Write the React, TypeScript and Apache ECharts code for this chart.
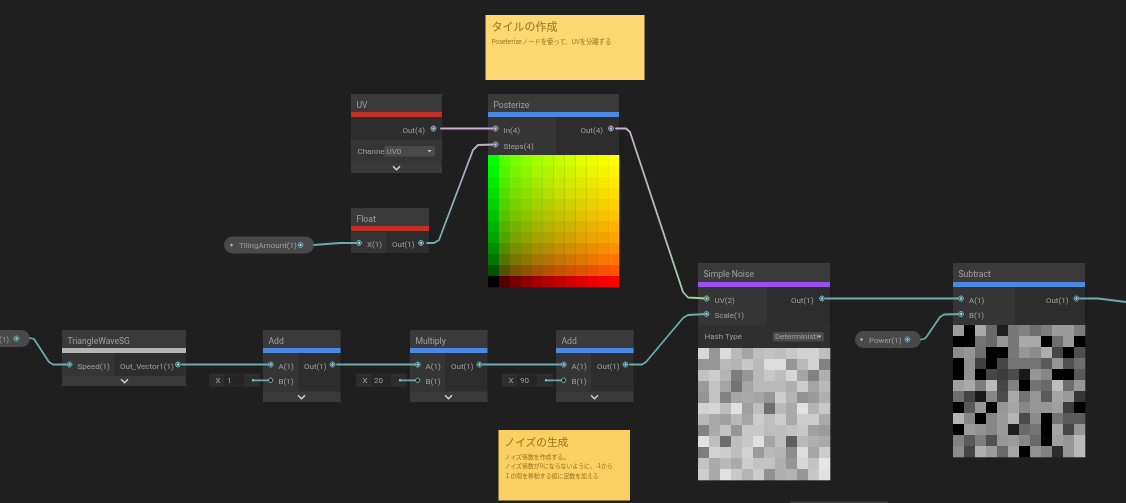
import React, { useEffect, useRef } from "react";
import * as echarts from "echarts";

// Colour levels of the posterized UV preview (bottom-left = black, right = red, top = green)
const redLevels = [0, 84, 118, 142, 163, 179, 195, 208, 222, 234, 245, 255];
const greenLevels = [255, 245, 234, 222, 208, 195, 179, 163, 142, 118, 84, 0];

const noiseValues = [
  [215, 150, 220, 185, 165, 190, 195, 190, 200, 210, 210, 190],
  [150, 150, 185, 180, 200, 185, 220, 220, 150, 185, 210, 130],
  [195, 205, 180, 125, 150, 185, 200, 190, 215, 165, 130, 175],
  [155, 195, 165, 115, 165, 185, 185, 185, 175, 205, 165, 185],
  [150, 195, 130, 165, 170, 165, 150, 205, 180, 145, 155, 175],
  [210, 215, 190, 225, 160, 190, 110, 185, 170, 225, 180, 200],
  [185, 170, 160, 185, 165, 205, 190, 205, 170, 205, 205, 170],
  [130, 170, 195, 150, 200, 200, 190, 190, 195, 200, 160, 155],
  [225, 190, 110, 190, 200, 225, 165, 190, 95, 185, 175, 170],
  [125, 210, 205, 190, 210, 155, 185, 180, 140, 220, 165, 205],
  [195, 170, 185, 170, 205, 195, 195, 175, 150, 215, 195, 230],
  [205, 170, 225, 200, 180, 205, 145, 175, 180, 150, 200, 225],
];

const subtractValues = [
  [155, 0, 170, 105, 30, 120, 130, 110, 125, 155, 155, 125],
  [0, 0, 115, 105, 150, 120, 170, 170, 0, 110, 155, 0],
  [140, 150, 110, 0, 0, 120, 150, 140, 175, 70, 0, 80],
  [0, 145, 65, 0, 70, 115, 115, 115, 90, 150, 80, 110],
  [0, 145, 0, 70, 60, 75, 25, 150, 135, 0, 0, 90],
  [160, 170, 125, 185, 70, 130, 0, 115, 105, 190, 110, 150],
  [110, 70, 25, 135, 75, 170, 115, 150, 90, 165, 155, 55],
  [0, 90, 150, 0, 150, 165, 135, 150, 150, 160, 60, 0],
  [180, 135, 0, 135, 155, 180, 75, 140, 0, 115, 90, 90],
  [0, 155, 145, 135, 155, 30, 105, 115, 0, 165, 70, 150],
  [130, 90, 125, 80, 150, 155, 135, 105, 5, 160, 150, 185],
  [140, 70, 175, 155, 105, 165, 0, 145, 130, 45, 150, 185],
];

const noteOneTitle = "タイルの作成";
const noteOneLines = ["Poseterizeノードを使って、UVを分離する"];
const noteTwoTitle = "ノイズの生成";
const noteTwoLines = [
  "ノイズ係数を作成する。",
  "ノイズ係数が0にならないように、-1から",
  "１の間を移動する値に定数を加える",
];

const BG = "#1f1f1f";
const HEAD = "#3a3a3a";
const BODY = "#2d2d2d";
const SECTION = "#353535";
const ROW = "#3a3a3a";
const TXT = "#a0a0a0";
const TEAL = "#68acae";
const PINK = "#ccaccd";
const GREEN = "#a0d09c";
const BLUE = "#4a8ae3";
const RED = "#c22f24";
const PURPLE = "#9a50ea";
const NOTE_TEXT = "#96721f";
const UI_FONT = 'Roboto, sans-serif';
const CJK_FONT = '"Noto Sans CJK JP", sans-serif';
const LABEL = 8;

const g: any[] = [];
const rect = (x: number, y: number, w: number, h: number, fill: string, z = 0, r = 0) =>
  g.push({ type: "rect", z, silent: true, shape: { x, y, width: w, height: h, r }, style: { fill } });
const text = (t: string, x: number, y: number, size = LABEL, fill = TXT, font = UI_FONT, align = "left") =>
  g.push({
    type: "text", z: 20, silent: true, x, y,
    style: { text: t, fill, font: `${size}px ${font}`, textAlign: align, textVerticalAlign: "middle" },
  });
const port = (x: number, y: number, color = "#78bcc4") => {
  g.push({ type: "circle", z: 20, silent: true, shape: { cx: x, cy: y, r: 2.5 }, style: { fill: "#33636a", stroke: color, lineWidth: 0.9 } });
  g.push({ type: "circle", z: 21, silent: true, shape: { cx: x, cy: y, r: 1 }, style: { fill: "#c8e8ea" } });
};
const hollowPort = (x: number, y: number) =>
  g.push({ type: "circle", z: 21, silent: true, shape: { cx: x, cy: y, r: 2.2 }, style: { fill: "#222", stroke: "#8fc6c6", lineWidth: 0.9 } });
const dot = (x: number, y: number, fill = "#7fc4cc", r = 1.2) =>
  g.push({ type: "circle", z: 21, silent: true, shape: { cx: x, cy: y, r }, style: { fill } });
const chevron = (cx: number, cy: number) =>
  g.push({
    type: "polyline", z: 20, silent: true,
    shape: { points: [[cx - 3.5, cy - 1.8], [cx, cy + 1.8], [cx + 3.5, cy - 1.8]] },
    style: { stroke: "#d8d8d8", lineWidth: 1.3, fill: "none" },
  });
const caret = (cx: number, cy: number) =>
  g.push({
    type: "polygon", z: 20, silent: true,
    shape: { points: [[cx - 2, cy - 1], [cx + 2, cy - 1], [cx, cy + 1.5]] },
    style: { fill: "#c0c0c0" },
  });
const frame = (x: number, y: number, w: number, h: number, bar: string, title: string, top = 18) => {
  rect(x, y, w, h, BODY);
  rect(x, y, w, top, HEAD);
  rect(x, y + top, w, 5, bar);
  text(title, x + 5.5, y + 11, 8.6);
};
const inputBox = (x: number, value: string, cy: number) => {
  rect(x, cy - 6.5, 51, 13, "#2d2d2d");
  rect(x + 15, cy - 6, 20, 12, "#262626", 1, 3);
  text("X", x + 6.5, cy);
  text(value, x + 18, cy);
  dot(x + 44, cy);
};
const pill = (x: number, y: number, w: number, label: string, dotX: number, labelX: number, portX: number) => {
  rect(x, y, w, 17, "#494949", 0, 8.5);
  if (dotX > 0) dot(dotX, y + 8.5, "#a8e07a", 1.2);
  text(label, labelX, y + 9);
  port(portX, y + 8.5);
};
const note = (
  x: number, y: number, w: number, h: number, fill: string,
  title: string, titleSize: number, titleY: number,
  lines: string[], lineSize: number, lineY: number
) => {
  rect(x, y, w, h, fill);
  text(title, x + 6, titleY, titleSize, NOTE_TEXT, CJK_FONT);
  lines.forEach((l, i) => text(l, x + 6, lineY + i * 9.5, lineSize, NOTE_TEXT, CJK_FONT));
};

// UV
frame(351, 94, 91, 79, RED, "UV");
rect(351, 140, 91, 23, SECTION);
rect(351, 163, 91, 10, ROW);
text("Out(4)", 425, 130, LABEL, TXT, UI_FONT, "right");
port(433.5, 128.5, "#d0b0d0");
text("Channe", 357.5, 151);
rect(384, 146, 51, 10.5, "#4a4a4a", 1, 1.5);
text("UV0", 386.5, 151);
caret(429.5, 151);
chevron(396.5, 168);

// Posterize
frame(488, 94, 131, 193, BLUE, "Posterize");
rect(488, 117, 68, 38, SECTION);
port(495.5, 128.5, "#d0b0d0");
port(495.5, 144.5, "#d0b0d0");
text("In(4)", 503.5, 130);
text("Steps(4)", 503.5, 146);
text("Out(4)", 603, 130, LABEL, TXT, UI_FONT, "right");
port(611, 128.5, "#d0b0d0");

// Float
frame(351, 208, 78, 45, RED, "Float");
rect(351, 232, 35, 21, SECTION);
port(359, 243);
text("X(1)", 367, 244.5);
text("Out(1)", 392, 244.5);
port(421, 243);

pill(224, 236.5, 90, "TilingAmount(1)", 231.5, 239, 300.5);
pill(-40, 330, 70, "(1)", 0, -1, 16.5);
pill(855, 331, 66, "Power(1)", 861.5, 869, 907.5);

// TriangleWaveSG
frame(62, 330, 124, 56, "#b5b5b5", "TriangleWaveSG");
rect(62, 353, 52, 23, SECTION);
rect(62, 376, 124, 10, ROW);
port(69.5, 364.5);
text("Speed(1)", 77.5, 366);
text("Out_Vector1(1)", 120, 366);
port(178, 364.5);
chevron(124.5, 381);

// Add / Multiply / Add
const mathNodes: [number, string, string][] = [
  [263, "Add", "1"],
  [410, "Multiply", "20"],
  [556, "Add", "90"],
];
mathNodes.forEach(([x, name, val]) => {
  frame(x, 330, 77.5, 72, BLUE, name);
  rect(x, 353, 35, 38, SECTION);
  rect(x, 391.5, 77.5, 10.5, ROW);
  port(x + 7.7, 364.5);
  hollowPort(x + 7.7, 380.3);
  text("A(1)", x + 15.5, 366);
  text("B(1)", x + 15.5, 381.5);
  text("Out(1)", x + 41, 366);
  port(x + 69.5, 364.5);
  chevron(x + 38.5, 397);
  inputBox(x - 54, val, 380.3);
});

// Simple Noise
frame(698, 263, 132, 217, PURPLE, "Simple Noise", 19);
rect(698, 287, 69, 38, SECTION);
port(706.5, 298.5, "#a8d8a0");
port(706.5, 314);
text("UV(2)", 714.5, 300);
text("Scale(1)", 714.5, 315.5);
text("Out(1)", 813.5, 300, LABEL, TXT, UI_FONT, "right");
port(822, 298.5);
rect(698, 325, 132, 23, "#2f2f2f");
text("Hash Type", 704.5, 336.5);
rect(773, 332, 51, 9.5, "#4a4a4a", 1, 1.5);
text("Deterministi", 775, 336.8);
caret(819.5, 336.5);

// Subtract
frame(953, 263, 132, 194, BLUE, "Subtract", 19);
rect(953, 287, 62, 38, SECTION);
port(961, 298.5);
port(961, 314);
text("A(1)", 969, 300);
text("B(1)", 969, 315.5);
text("Out(1)", 1068.5, 300, LABEL, TXT, UI_FONT, "right");
port(1076.5, 298.5);

// Sticky notes
note(485.5, 15, 159, 65, "#fdd76f", noteOneTitle, 11, 26, noteOneLines, 6.3, 41);
note(498.5, 430, 131.5, 70.5, "#fbd062", noteTwoTitle, 10.7, 441, noteTwoLines, 5.9, 456);

// Top edge of a node that is cut off by the bottom of the window
rect(790, 501.5, 98, 1.5, "#3a3a3a");

type Pt = [number, number];
const grad = (x0: number, x1: number, y0: number, y1: number, a: string, b: string) =>
  new echarts.graphic.LinearGradient(x0, y0, x1, y1, [
    { offset: 0, color: a },
    { offset: 1, color: b },
  ]);

const wires: { pts: Pt[]; color: any }[] = [
  { pts: [[441, 128.5], [495, 128.5]], color: PINK },
  { pts: [[427, 243], [434, 243], [439, 240], [473, 150], [478, 145], [495, 144.5]], color: grad(0, 1, 1, 0, TEAL, PINK) },
  { pts: [[616, 128.5], [626, 128.5], [630, 132], [683, 292], [688, 297.5], [706, 298.5]], color: grad(0, 1, 0, 1, PINK, GREEN) },
  { pts: [[826, 298.5], [961, 298.5]], color: TEAL },
  { pts: [[630, 364.5], [642, 364.5], [646, 362], [683, 318], [688, 315], [706, 314]], color: TEAL },
  { pts: [[314, 245], [320, 244.5], [340, 243], [359, 243]], color: TEAL },
  { pts: [[30, 338], [34, 339], [49, 362], [53, 364.5], [69, 364.5]], color: TEAL },
  { pts: [[182, 364.5], [271, 364.5]], color: TEAL },
  { pts: [[337, 364.5], [418, 364.5]], color: TEAL },
  { pts: [[483, 364.5], [564, 364.5]], color: TEAL },
  { pts: [[921, 339.5], [925, 338.5], [927, 336], [940, 317], [944, 314.5], [961, 314]], color: TEAL },
  { pts: [[1080, 298.5], [1098, 298.5], [1126, 302]], color: TEAL },
  { pts: [[253, 380.3], [271, 380.3]], color: TEAL },
  { pts: [[400, 380.3], [418, 380.3]], color: TEAL },
  { pts: [[546, 380.3], [564, 380.3]], color: TEAL },
];

const grayCells = (rows: number[][]) =>
  rows.flatMap((row, y) => row.map((v, x) => ({ value: [x, y], color: `rgb(${v},${v},${v})` })));

const posterizeCells = greenLevels.flatMap((gl, y) =>
  redLevels.map((rl, x) => ({ value: [x, y], color: `rgb(${rl},${gl},0)` }))
);

const idx = redLevels.map((_, i) => String(i));
const boxes = [
  { left: 488, top: 155, width: 131, height: 132 },
  { left: 698, top: 348, width: 132, height: 132 },
  { left: 953, top: 325, width: 132, height: 132 },
];

const cellSeries = (cells: { value: number[]; color: string }[], i: number) => ({
  type: "custom",
  xAxisIndex: i + 1,
  yAxisIndex: i + 1,
  z: 2,
  silent: true,
  clip: false,
  encode: { x: 0, y: 1 },
  data: cells.map((c) => c.value),
  renderItem: (params: any, api: any) => {
    const p = api.coord([api.value(0), api.value(1)]);
    const s = api.size([1, 1]);
    return {
      type: "rect",
      shape: { x: p[0] - s[0] / 2, y: p[1] - s[1] / 2, width: s[0] + 0.3, height: s[1] + 0.3 },
      style: { fill: cells[params.dataIndex].color },
    };
  },
});

const option: any = {
  animation: false,
  backgroundColor: BG,
  graphic: { elements: g },
  grid: [{ left: 0, top: 0, width: 1126, height: 503 }, ...boxes],
  xAxis: [
    { type: "value", gridIndex: 0, min: 0, max: 1126, show: false },
    ...boxes.map((_, i) => ({ type: "category", gridIndex: i + 1, data: idx, show: false })),
  ],
  yAxis: [
    { type: "value", gridIndex: 0, min: 0, max: 503, inverse: true, show: false },
    ...boxes.map((_, i) => ({ type: "category", gridIndex: i + 1, data: idx, show: false, inverse: true })),
  ],
  series: [
    ...[posterizeCells, grayCells(noiseValues), grayCells(subtractValues)].map(cellSeries),
    ...wires.map((w) => ({
      type: "line",
      xAxisIndex: 0,
      yAxisIndex: 0,
      z: 3,
      silent: true,
      showSymbol: false,
      symbol: "none",
      data: w.pts,
      lineStyle: { color: w.color, width: 1.8, cap: "round", join: "round" },
    })),
  ],
};

export default function App() {
  const ref = useRef<HTMLDivElement>(null);
  useEffect(() => {
    document.body.style.margin = "0";
    document.body.style.background = BG;
    const chart = echarts.init(ref.current!, undefined, { renderer: "svg" });
    chart.setOption(option);
    return () => chart.dispose();
  }, []);
  return <div ref={ref} style={{ width: 1126, height: 503, filter: "blur(0.35px)" }} />;
}
